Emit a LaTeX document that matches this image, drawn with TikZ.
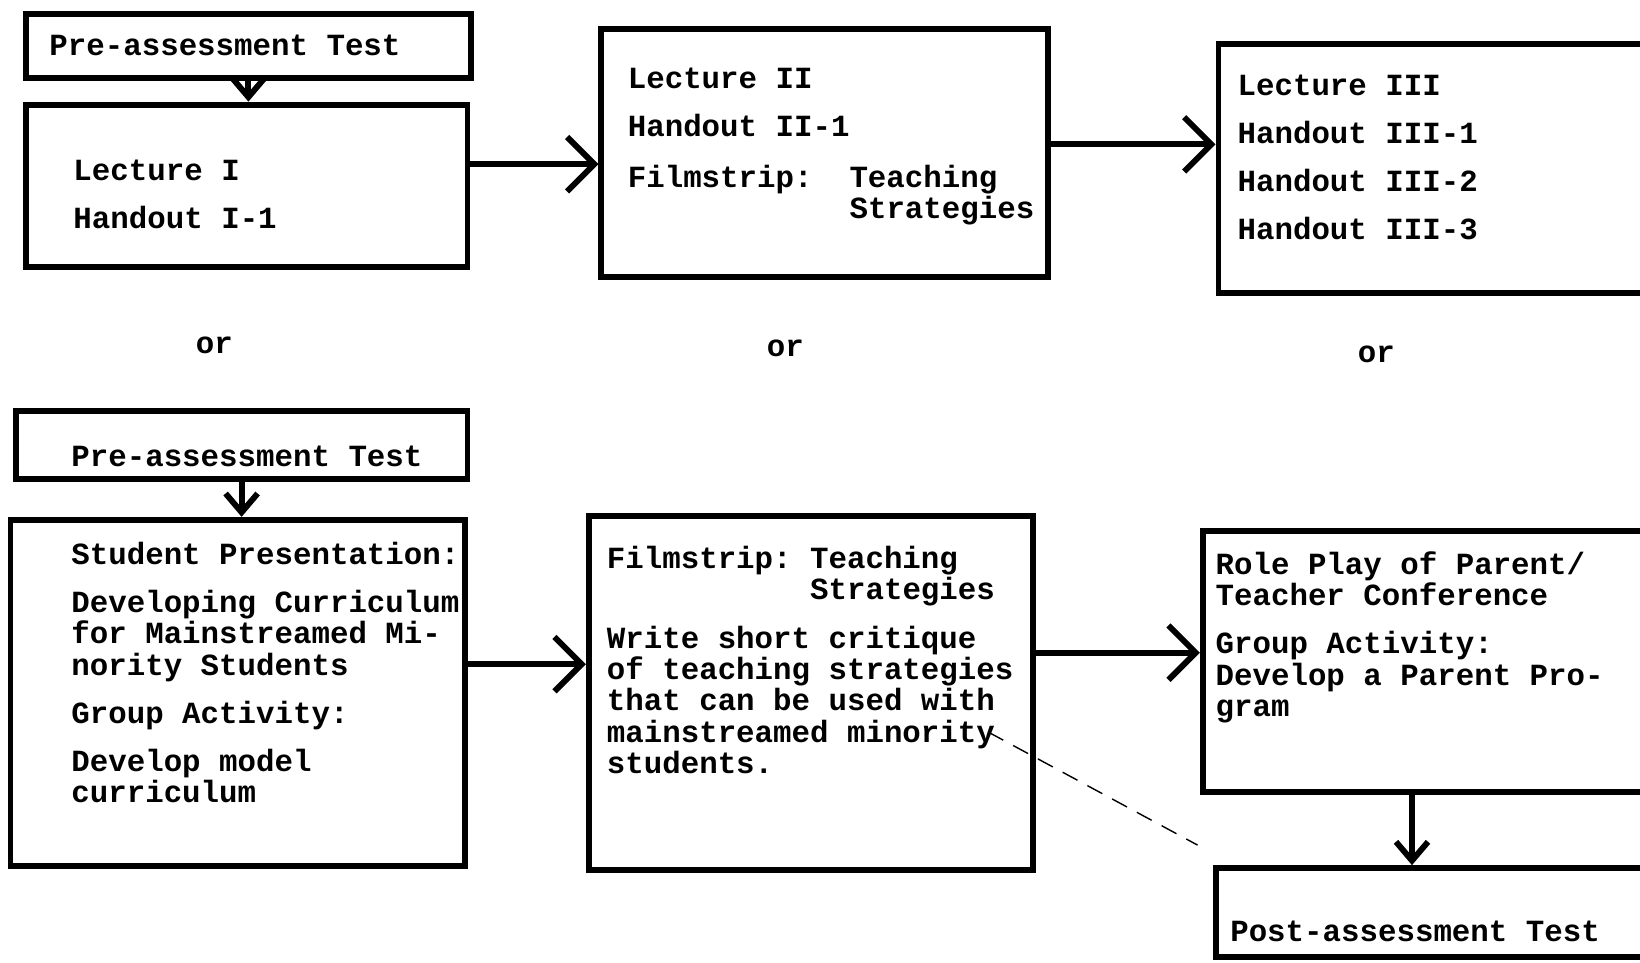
\documentclass[tikz,border=0pt]{standalone}
\usepackage{fontspec}
\setmonofont{Liberation Mono}
\usetikzlibrary{arrows.meta,fit}

\tikzset{
  box/.style={draw, line width=4.2pt, inner sep=0pt},
  txt/.style={anchor=north west, inner sep=0pt, align=left,
    font=\ttfamily\bfseries\fontsize{21.9pt}{22.3pt}\selectfont,
    execute at begin node=\strut},
  arr/.style={line width=4.2pt, -{Straight Barb[length=0.68cm,width=1.36cm]}},
  sarr/.style={line width=4.2pt, -{Straight Barb[length=0.47cm,width=0.8cm]}},
}

\begin{document}
\begin{tikzpicture}[x=0.26148mm, y=-0.26148mm]
\useasboundingbox (0,0) rectangle (1568,920);
\clip (0,0) rectangle (1568,920);

\node [box, fit={(25,13) (450,75)}] (pre1) {};
\node [box, fit={(25,100) (447,255)}] (lec1) {};
\node [box, fit={(575,28) (1002,265)}] (lec2) {};
\node [box, fit={(1165,42) (1590,280)}] (lec3) {};

\node [box, fit={(15,393) (447,458)}] (pre2) {};
\node [box, fit={(10,497) (445,828)}] (stud) {};
\node [box, fit={(563,493) (988,832)}] (film) {};
\node [box, fit={(1150,508) (1590,757)}] (role) {};
\node [box, fit={(1163,830) (1590,915)}] (post) {};

\node [txt] (tpre1) at (47,32) {Pre-assessment Test};
\node [txt] (tlec1) at (70,153) {Lecture I\\[0.42cm]Handout I-1};
\node [txt] (tlec2) at (600,65) {Lecture II\\[0.42cm]Handout II-1\\[0.47cm]Filmstrip:\ \ Teaching\\\hphantom{Filmstrip:\ \ }Strategies};
\node [txt] (tlec3) at (1183,71) {Lecture III\\[0.42cm]Handout III-1\\[0.42cm]Handout III-2\\[0.42cm]Handout III-3};

\node [txt] (or1) at (187,317) {or};
\node [txt] (or2) at (733,320) {or};
\node [txt] (or3) at (1298,325) {or};

\node [txt] (tpre2) at (68,425) {Pre-assessment Test};
\node [txt] (tstud) at (68,518) {Student Presentation:\\[0.42cm]Developing Curriculum\\for Mainstreamed Mi-\\nority Students\\[0.42cm]Group Activity:\\[0.42cm]Develop model\\curriculum};
\node [txt] (tfilm) at (580,522) {Filmstrip: Teaching\\\hphantom{Filmstrip: }Strategies\\[0.42cm]Write short critique\\of teaching strategies\\that can be used with\\mainstreamed minority\\students.};
\node [txt] (trole) at (1162,527) {Role Play of Parent/\\Teacher Conference\\[0.42cm]Group Activity:\\Develop a Parent Pro-\\gram};
\node [txt] (tpost) at (1176,879) {Post-assessment Test};

\draw [sarr] (pre1.south) -- (pre1.south |- lec1.north);
\draw [arr] (lec1.east |- 0,157) -- (lec2.west |- 0,157);
\draw [arr] (lec2.east |- 0,138) -- (lec3.west |- 0,138);

\draw [sarr] (pre2.south) -- (pre2.south |- stud.north);
\draw [arr] (stud.east |- 0,635) -- (film.west |- 0,635);
\draw [arr] (film.east |- 0,624) -- (role.west |- 0,624);
\draw [sarr] (role.south -| 1350,0) -- (post.north -| 1350,0);

\draw [line width=1pt, dash pattern=on 12pt off 8pt] (945,700) -- (1145,808);

\end{tikzpicture}
\end{document}
